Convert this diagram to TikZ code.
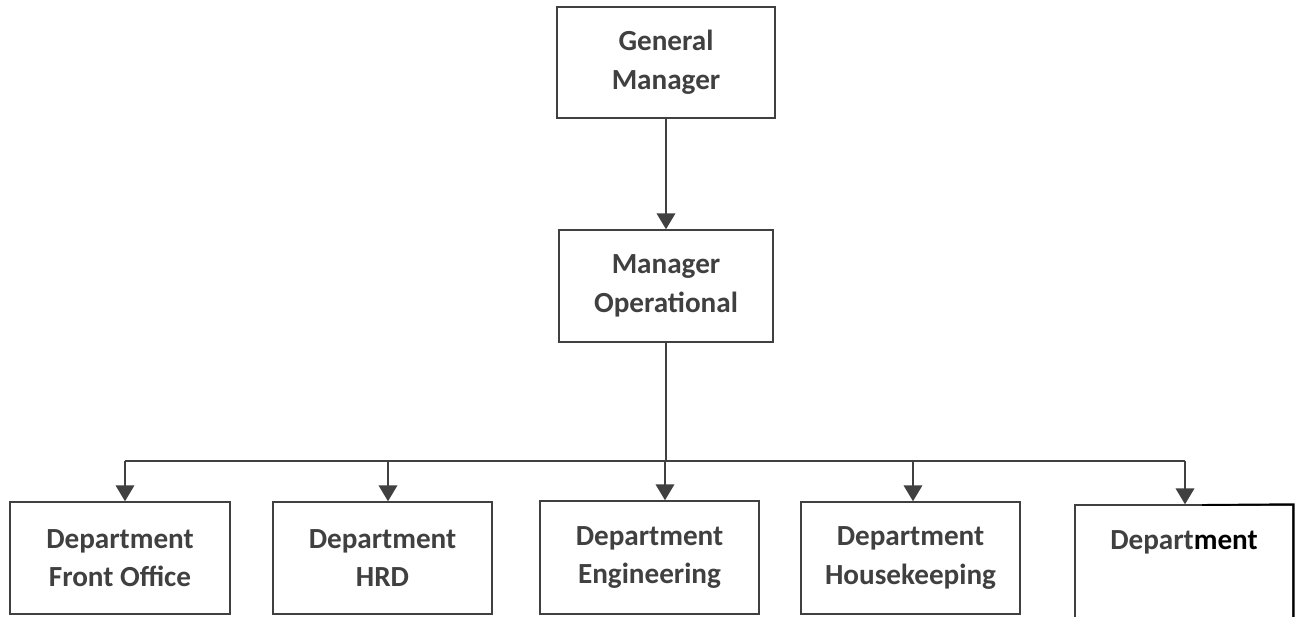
\documentclass[tikz,border=0pt]{standalone}
\usepackage{fontspec}
\setmainfont{Carlito}
\usetikzlibrary{arrows.meta}
\definecolor{chartgrey}{RGB}{64,64,64}

\begin{document}
\begin{tikzpicture}[x=0.02cm, y=-0.02cm, >={Triangle[width=10.5pt,length=9pt]},
	unit/.style={draw=chartgrey, line width=1.1pt, fill=white, inner sep=0pt,
		align=center, text=chartgrey,
		font=\fontsize{16.6}{22}\selectfont\bfseries},
	link/.style={draw=chartgrey, line width=1.1pt}]
			\clip (0,0) rectangle (1295,616);
			\fill[white] (0,0) rectangle (1295,616);
			% top of the chart
			\node[unit, minimum width=218*0.567pt, minimum height=111*0.567pt] (gm) at (666,62.5) {General\\Manager};
			\node[unit, minimum width=215*0.567pt, minimum height=112*0.567pt] (mo) at (666,286) {Manager\\Operational};
			\draw[link,->] (gm) -- (mo);
			% departments
			\node[unit, minimum width=220*0.567pt, minimum height=112*0.567pt] (fo) at (120,558) {Department\\Front Office};
			\node[unit, minimum width=219*0.567pt, minimum height=112*0.567pt] (hrd) at (382.5,558) {Department\\HRD};
			\node[unit, minimum width=219*0.567pt, minimum height=113*0.567pt] (eng) at (649.5,557.5) {Department\\Engineering};
			\node[unit, minimum width=219*0.567pt, minimum height=112*0.567pt] (hk) at (910.5,558) {Department\\Housekeeping};
			\node[unit, minimum width=218*0.567pt, minimum height=120*0.567pt] (last) at (1184,565) {Depart\textcolor{black}{ment}\\\strut};
			\draw[black, line width=1.1pt] (1202,505) -- (last.north east) -- (last.south east);
			\coordinate (t1) at (125,461);
			\coordinate (t2) at (388,461);
			\coordinate (t3) at (665,461);
			\coordinate (t4) at (913,461);
			\coordinate (t5) at (1185,461);
			\draw[link] (mo.south) -- (mo.south |- t3);
			\draw[link] (t1) -- (t5);
			\draw[link,->] (t1) -- (t1 |- fo.north);
			\draw[link,->] (t2) -- (t2 |- hrd.north);
			\draw[link,->] (t3) -- (t3 |- eng.north);
			\draw[link,->] (t4) -- (t4 |- hk.north);
			\draw[link,->] (t5) -- (t5 |- last.north);
		\end{tikzpicture}
\end{document}
